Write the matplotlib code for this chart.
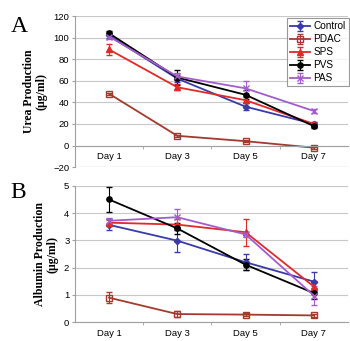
import numpy as np
import matplotlib
matplotlib.use('Agg')
import matplotlib.pyplot as plt

days = ['Day 1', 'Day 3', 'Day 5', 'Day 7']
groups = ['Control', 'PDAC', 'SPS', 'PVS', 'PAS']

# urea production (ug/ml)
urea_control = [102, 62, 36, 20]
urea_pdac = [48, 9, 4, -2]
urea_sps = [89, 54, 42, 20]
urea_pvs = [104, 63, 47, 18]
urea_pas = [101, 64, 53, 32]
urea_err_control = [2, 3, 3, 2]
urea_err_pdac = [1, 1, 1, 1]
urea_err_sps = [5, 3, 3, 2]
urea_err_pvs = [2, 7, 4, 2]
urea_err_pas = [2, 3, 7, 2]

# albumin production (ug/ml)
alb_control = [3.57, 2.99, 2.20, 1.49]
alb_pdac = [0.90, 0.30, 0.28, 0.25]
alb_sps = [3.65, 3.58, 3.30, 1.31]
alb_pvs = [4.50, 3.44, 2.11, 1.07]
alb_pas = [3.72, 3.85, 3.22, 0.98]
alb_err_control = [0.20, 0.40, 0.30, 0.35]
alb_err_pdac = [0.20, 0.10, 0.05, 0.05]
alb_err_sps = [0.10, 0.20, 0.50, 0.20]
alb_err_pvs = [0.45, 0.20, 0.20, 0.20]
alb_err_pas = [0.10, 0.30, 0.10, 0.35]

colors = ['#3a3aa8', '#a33a2e', '#e02a2a', '#000000', '#a35ccc']
markers = ['D', 's', '^', 'o', 'x']
mfc = ['#3a3aa8', 'none', '#e02a2a', '#000000', '#a35ccc']
msize = [3.2, 3.8, 3.8, 3.8, 4.2]

sans = 'Liberation Sans'
serif = 'Liberation Serif'

fig = plt.figure(figsize=(3.5, 3.41), dpi=100)
axA = fig.add_axes([0.214, 0.51, 0.78, 0.443])
axB = fig.add_axes([0.214, 0.055, 0.78, 0.40])

x = np.arange(len(days)) + 0.5


def style_axes(ax, ymin, ymax, step, ylabel):
    ax.set_xlim(0, 4)
    ax.set_ylim(ymin, ymax)
    ax.set_yticks(np.arange(ymin, ymax + step / 2, step))
    ax.yaxis.grid(True, color='#c8c8c8', lw=0.8)
    ax.set_axisbelow(True)
    for s in ['top', 'right']:
        ax.spines[s].set_visible(False)
    ax.spines['left'].set_color('#a0a0a0')
    ax.spines['bottom'].set_color('#a0a0a0')
    ax.spines['bottom'].set_position(('data', 0))
    ax.set_xticks(x)
    ax.set_xticklabels(days, fontsize=6.8, family=sans)
    ax.set_xticks([1, 2, 3], minor=True)
    ax.tick_params(axis='x', which='major', length=0, pad=5)
    ax.tick_params(axis='x', which='minor', length=2, color='#a0a0a0')
    ax.tick_params(axis='y', length=2, color='#a0a0a0', labelsize=6.8, pad=2)
    for t in ax.get_yticklabels():
        t.set_family(sans)
    ax.set_ylabel(ylabel, fontsize=8.5, family=serif, fontweight='bold',
                  labelpad=4, linespacing=1.1)


def draw(ax, series, errs):
    for i, (vals, err) in enumerate(zip(series, errs)):
        ax.errorbar(x, vals, yerr=err, color=colors[i], ecolor=colors[i],
                    elinewidth=0.8, capsize=2, capthick=0.8, lw=1.3,
                    marker=markers[i], ms=msize[i], mfc=mfc[i],
                    mec=colors[i], mew=1, label=groups[i])


style_axes(axA, -20, 120, 20, 'Urea Production\n(\u00b5g/ml)')
draw(axA, [urea_control, urea_pdac, urea_sps, urea_pvs, urea_pas],
     [urea_err_control, urea_err_pdac, urea_err_sps, urea_err_pvs, urea_err_pas])
axA.axhline(-20, color='#a0a0a0', lw=0.8)
leg = axA.legend(loc='upper right', bbox_to_anchor=(1.01, 1.0),
                 frameon=True, fancybox=False, borderpad=0.3, labelspacing=0.3,
                 handlelength=2.0, handletextpad=0.3, borderaxespad=0.2,
                 prop={'family': sans, 'size': 7.2})
leg.get_frame().set_edgecolor('#808080')
leg.get_frame().set_linewidth(0.8)

style_axes(axB, 0, 5, 1, 'Albumin Production\n(\u00b5g/ml)')
draw(axB, [alb_control, alb_pdac, alb_sps, alb_pvs, alb_pas],
     [alb_err_control, alb_err_pdac, alb_err_sps, alb_err_pvs, alb_err_pas])

fig.text(0.03, 0.905, 'A', fontsize=17, family=serif)
fig.text(0.03, 0.42, 'B', fontsize=17, family=serif)

fig.savefig('out.png', dpi=100)
